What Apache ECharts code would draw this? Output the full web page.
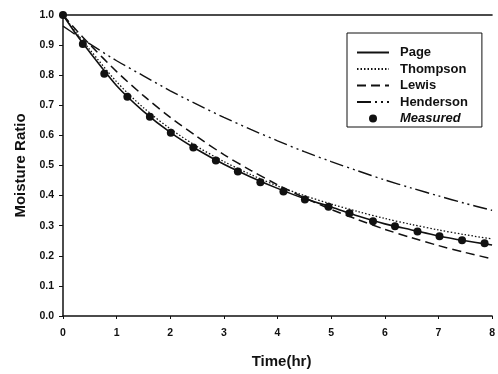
<!DOCTYPE html>
<html>
<head>
<meta charset="utf-8">
<script src="https://cdn.jsdelivr.net/npm/echarts@6/dist/echarts.min.js"></script>
<style>
  html, body { margin: 0; padding: 0; background: #fff; }
  #chart { width: 498px; height: 374px; }
</style>
</head>
<body>
<div id="chart"></div>
<script>
// Measured drying points (time in hr, moisture ratio)
const measuredTime = [0, 0.37, 0.77, 1.2, 1.62, 2.01, 2.43, 2.85, 3.26, 3.68, 4.11, 4.51, 4.95, 5.34, 5.78, 6.19, 6.61, 7.02, 7.44, 7.86]
const measuredMR = [1.0, 0.904, 0.805, 0.728, 0.662, 0.609, 0.56, 0.517, 0.48, 0.444, 0.414, 0.387, 0.363, 0.341, 0.315, 0.298, 0.281, 0.265, 0.252, 0.242]

// Model curves at these times
const modelTime = [0, 0.25, 0.5, 1, 1.5, 2, 2.5, 3, 3.5, 4, 4.5, 5, 5.5, 6, 6.5, 7, 7.5, 8]
const pageMR = [1.0, 0.935, 0.876, 0.765, 0.68, 0.61, 0.553, 0.504, 0.462, 0.424, 0.39, 0.362, 0.332, 0.306, 0.286, 0.266, 0.25, 0.236]
const thompsonMR = [1.0, 0.94, 0.885, 0.778, 0.692, 0.622, 0.563, 0.513, 0.47, 0.432, 0.4, 0.372, 0.347, 0.324, 0.304, 0.286, 0.27, 0.256]
const lewisMR = [1.0, 0.949, 0.902, 0.812, 0.732, 0.66, 0.596, 0.536, 0.484, 0.436, 0.393, 0.354, 0.32, 0.288, 0.26, 0.234, 0.211, 0.19]
const hendersonMR = [0.963, 0.933, 0.904, 0.848, 0.798, 0.748, 0.703, 0.66, 0.62, 0.582, 0.546, 0.513, 0.482, 0.452, 0.425, 0.399, 0.374, 0.351]

const xTicks = [0, 1, 2, 3, 4, 5, 6, 7, 8]

const ink = '#111'
const font = 'Arial, "Liberation Sans", sans-serif'

const pairs = (xs, ys) => xs.map((x, i) => [x, ys[i]])

const lineSeries = (name, ys, dash, width) => ({
  name,
  type: 'line',
  data: pairs(modelTime, ys),
  smooth: 0.3,
  symbol: 'none',
  lineStyle: { color: ink, width: width || 1.4, type: dash },
  itemStyle: { color: ink },
  z: 2
})

// legend entries for the model lines: line sample only, no marker
const noMarker = { color: 'rgba(0,0,0,0)', borderWidth: 0, opacity: 0 }

const chart = echarts.init(document.getElementById('chart'))

chart.setOption({
  animation: false,
  backgroundColor: '#fff',
  grid: { left: 63, top: 15, right: 1, bottom: 57 },
  legend: {
    orient: 'vertical',
    left: 347,
    top: 33,
    padding: [13, 14, 2, 9],
    itemWidth: 32,
    itemHeight: 8,
    itemGap: 3.5,
    borderColor: ink,
    borderWidth: 1,
    textStyle: { color: ink, fontFamily: font, fontSize: 13, fontWeight: 'bold', padding: [0, 0, 0, 6] },
    data: [
      { name: 'Page', itemStyle: noMarker },
      { name: 'Thompson', itemStyle: noMarker },
      { name: 'Lewis', itemStyle: noMarker },
      { name: 'Henderson', itemStyle: noMarker },
      { name: 'Measured', itemStyle: { color: ink, opacity: 1 }, textStyle: { fontStyle: 'italic' } }
    ]
  },
  xAxis: [{
    type: 'value',
    min: 0,
    max: 8,
    interval: 1,
    name: 'Time(hr)',
    nameLocation: 'middle',
    nameGap: 38,
    nameTextStyle: { color: ink, fontFamily: font, fontSize: 15, fontWeight: 'bold', padding: [0, 0, 0, 8] },
    axisLine: { show: true, onZero: false, lineStyle: { color: ink, width: 1.5 } },
    axisTick: { show: true, length: 3, inside: false, lineStyle: { color: ink } },
    axisLabel: {
      color: ink, fontFamily: font, fontSize: 10.5, fontWeight: 'bold', margin: 12,
      showMaxLabel: true, hideOverlap: false,
      formatter: v => xTicks.includes(v) ? String(v) : ''
    },
    splitLine: { show: false }
  }, {
    type: 'value',
    position: 'top',
    min: 0,
    max: 8,
    axisLine: { show: true, onZero: false, lineStyle: { color: ink, width: 1.5 } },
    axisTick: { show: false },
    axisLabel: { show: false },
    splitLine: { show: false }
  }],
  yAxis: {
    type: 'value',
    min: 0,
    max: 1,
    interval: 0.1,
    name: 'Moisture Ratio',
    nameLocation: 'middle',
    nameGap: 35,
    nameTextStyle: { color: ink, fontFamily: font, fontSize: 15, fontWeight: 'bold' },
    axisLine: { show: true, lineStyle: { color: ink, width: 1.5 } },
    axisTick: { show: true, length: 4, inside: false, lineStyle: { color: ink } },
    axisLabel: {
      color: ink, fontFamily: font, fontSize: 10.5, fontWeight: 'bold', margin: 9,
      formatter: v => v.toFixed(1)
    },
    splitLine: { show: false }
  },
  series: [
    lineSeries('Page', pageMR, 'solid', 1.6),
    lineSeries('Thompson', thompsonMR, [1.5, 2], 1.3),
    lineSeries('Lewis', lewisMR, [9, 5], 1.5),
    lineSeries('Henderson', hendersonMR, [14, 4, 2, 4, 2, 4], 1.4),
    {
      name: 'Measured',
      type: 'scatter',
      data: pairs(measuredTime, measuredMR),
      symbol: 'circle',
      symbolSize: 8,
      itemStyle: { color: ink, opacity: 1 },
      z: 3
    }
  ]
})
</script>
</body>
</html>
